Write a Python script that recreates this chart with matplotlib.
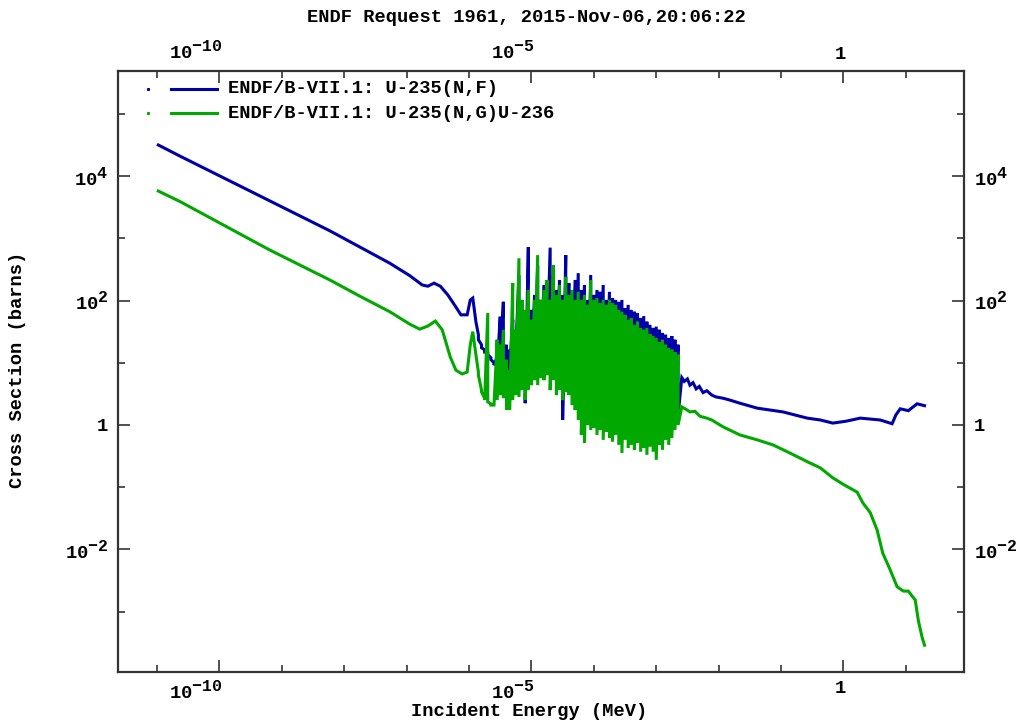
import matplotlib
matplotlib.use('Agg')
import matplotlib.pyplot as plt
import matplotlib.transforms as mtransforms
from matplotlib.ticker import FixedLocator, FuncFormatter, NullFormatter
import numpy as np

try:
    # exponents in the original labels are nearly full size
    import matplotlib._mathtext as _mt
    _mt.SHRINK_FACTOR = 0.88
except Exception:
    pass

plt.rcParams['font.family'] = ['Liberation Mono', 'DejaVu Sans Mono']
plt.rcParams['font.weight'] = 'bold'
plt.rcParams['mathtext.fontset'] = 'custom'
plt.rcParams['mathtext.rm'] = 'Liberation Mono:bold'
plt.rcParams['mathtext.it'] = 'Liberation Mono:bold'
plt.rcParams['mathtext.bf'] = 'Liberation Mono:bold'
plt.rcParams['mathtext.default'] = 'rm'

# all values are log10(E / MeV) and log10(sigma / barns)

# thermal / low-energy part
fis_low_logE = [-10.98, -10.63, -10.15, -9.67, -9.19, -8.71, -8.23, -7.75, -7.27, -6.95,
                -6.75, -6.66, -6.56, -6.46, -6.34, -6.22, -6.13, -6.03, -5.98, -5.94, -5.89]
fis_low_logS = [4.50, 4.32, 4.08, 3.84, 3.60, 3.36, 3.12, 2.86, 2.60, 2.40,
                2.25, 2.23, 2.28, 2.23, 2.09, 1.91, 1.77, 1.77, 2.01, 2.04, 1.66]
cap_low_logE = [-10.98, -10.63, -10.15, -9.67, -9.19, -8.71, -8.23, -7.75, -7.27, -6.95,
                -6.79, -6.66, -6.54, -6.43, -6.30, -6.21, -6.11, -6.03, -5.98, -5.94, -5.89]
cap_low_logS = [3.76, 3.59, 3.33, 3.07, 2.81, 2.57, 2.33, 2.07, 1.82, 1.62,
                1.54, 1.59, 1.67, 1.53, 1.09, 0.88, 0.82, 0.85, 1.29, 1.50, 1.13]

# resolved resonance region: upper / lower excursion per energy bin
res_logE = [-5.85, -5.80, -5.75, -5.70, -5.65, -5.60, -5.55, -5.50, -5.45, -5.40,
            -5.35, -5.30, -5.25, -5.20, -5.15, -5.10, -5.05, -5.00, -4.95, -4.90,
            -4.85, -4.80, -4.75, -4.70, -4.65, -4.60, -4.55, -4.50, -4.45, -4.40,
            -4.35, -4.30, -4.25, -4.20, -4.15, -4.10, -4.05, -4.00, -3.95, -3.90,
            -3.85, -3.80, -3.75, -3.70, -3.65, -3.60, -3.55, -3.50, -3.45, -3.40,
            -3.35, -3.30, -3.25, -3.20, -3.15, -3.10, -3.05, -3.00, -2.95, -2.90,
            -2.85, -2.80, -2.75, -2.70, -2.65]
fis_res_hi = [1.45, 1.29, 1.21, 1.16, 1.08, 1.00, 1.09, 1.74, 1.98, 1.29,
              1.21, 1.69, 1.45, 2.41, 1.85, 1.53, 2.86, 1.85, 2.09, 2.57,
              2.01, 2.25, 2.17, 2.85, 2.41, 2.17, 2.33, 2.09, 2.73, 2.28,
              2.17, 2.33, 2.44, 2.17, 2.25, 2.01, 2.41, 2.09, 2.17, 2.14,
              2.25, 2.01, 2.14, 2.04, 2.01, 1.98, 2.01, 1.88, 1.93, 1.85,
              1.82, 1.80, 1.72, 1.75, 1.66, 1.61, 1.56, 1.58, 1.53, 1.48,
              1.45, 1.40, 1.43, 1.37, 1.29]
fis_res_lo = [1.37, 1.24, 1.17, 1.13, 1.05, 0.96, 0.93, 1.01, 1.05, 0.96,
              0.88, 1.13, 1.21, 0.88, 0.72, 0.35, 0.72, 0.88, 0.96, 0.88,
              1.05, 1.01, 1.13, 0.88, 1.05, 0.80, 0.72, 0.08, 0.64, 0.72,
              0.56, 0.48, 0.40, 0.24, 0.32, 0.16, 0.08, 0.24, 0.03, 0.16,
              0.08, 0.11, 0.00, 0.08, 0.00, -0.05, -0.08, 0.00, -0.08, -0.11,
              -0.05, -0.16, -0.11, -0.18, -0.08, -0.21, -0.11, -0.24, -0.08, -0.16,
              -0.05, -0.08, 0.00, 0.08, 0.16]
cap_res_hi = [0.85, 0.56, 0.43, 1.80, 0.34, 0.32, 1.37, 1.29, 1.53, 1.05,
              0.88, 2.28, 1.53, 2.68, 2.01, 1.85, 2.17, 1.69, 2.01, 2.73,
              2.01, 2.17, 2.33, 2.01, 2.57, 2.09, 2.25, 2.01, 2.38, 2.09,
              2.17, 2.01, 2.14, 2.01, 2.09, 1.93, 2.33, 2.01, 2.04, 1.96,
              2.01, 1.93, 2.01, 1.96, 1.93, 1.85, 1.82, 1.77, 1.69, 1.72,
              1.61, 1.66, 1.56, 1.53, 1.56, 1.46, 1.43, 1.40, 1.33, 1.37,
              1.29, 1.24, 1.21, 1.17, 1.13]
cap_res_lo = [0.80, 0.53, 0.40, 0.37, 0.32, 0.32, 0.40, 0.48, 0.43, 0.24,
              0.24, 0.40, 0.48, 0.45, 0.56, 0.40, 0.56, 0.64, 0.72, 0.64,
              0.76, 0.72, 0.80, 0.56, 0.72, 0.48, 0.56, 0.40, 0.53, 0.48,
              0.32, 0.24, 0.08, -0.16, -0.29, 0.00, -0.08, -0.05, -0.16, -0.08,
              -0.24, -0.11, -0.21, -0.27, -0.16, -0.32, -0.45, -0.24, -0.37, -0.32,
              -0.40, -0.29, -0.43, -0.37, -0.48, -0.35, -0.43, -0.56, -0.32, -0.40,
              -0.24, -0.32, -0.21, -0.08, 0.00]

# unresolved + fast region
fis_high_logE = [-2.59, -2.55, -2.50, -2.46, -2.41, -2.36, -2.31, -2.25, -2.19, -2.11,
                 -2.04, -1.93, -1.82, -1.66, -1.38, -0.97, -0.58, -0.37, -0.17, 0.04,
                 0.27, 0.59, 0.78, 0.84, 0.91, 1.04, 1.18, 1.30]
fis_high_logS = [0.76, 0.70, 0.74, 0.64, 0.68, 0.58, 0.62, 0.52, 0.55, 0.48,
                 0.45, 0.43, 0.40, 0.35, 0.27, 0.21, 0.11, 0.08, 0.03, 0.06,
                 0.11, 0.08, 0.02, 0.16, 0.26, 0.23, 0.34, 0.31]
cap_high_logE = [-2.59, -2.52, -2.46, -2.38, -2.30, -2.19, -2.11, -1.93, -1.66, -1.38,
                 -1.13, -0.86, -0.58, -0.37, -0.17, -0.01, 0.22, 0.31, 0.43, 0.54,
                 0.63, 0.75, 0.86, 0.96, 1.04, 1.10, 1.15, 1.20, 1.26, 1.30]
cap_high_logS = [0.29, 0.25, 0.21, 0.22, 0.14, 0.11, 0.08, -0.03, -0.16, -0.24,
                 -0.32, -0.45, -0.59, -0.69, -0.85, -0.95, -1.08, -1.25, -1.41, -1.69,
                 -2.06, -2.33, -2.60, -2.67, -2.67, -2.75, -2.81, -3.14, -3.41, -3.54]

labels = ['ENDF/B-VII.1: U-235(N,F)', 'ENDF/B-VII.1: U-235(N,G)U-236']
colors = ['#0000a8', '#00a800']


def build(low_e, low_s, hi, lo, high_e, high_s):
    # resonance bins drawn as hi -> lo strokes, joined to the smooth parts
    res_e = np.repeat(res_logE, 2)
    res_s = np.column_stack([hi, lo]).ravel()
    e = np.concatenate([low_e, res_e, high_e])
    s = np.concatenate([low_s, res_s, high_s])
    return 10.0 ** e, 10.0 ** s


fis_E, fis_S = build(fis_low_logE, fis_low_logS, fis_res_hi, fis_res_lo, fis_high_logE, fis_high_logS)
cap_E, cap_S = build(cap_low_logE, cap_low_logS, cap_res_hi, cap_res_lo, cap_high_logE, cap_high_logS)

fig = plt.figure(figsize=(10.22, 7.21), dpi=100)
ax = fig.add_axes([0.1155, 0.068, 0.8278, 0.8336])

ax.plot(fis_E, fis_S, color=colors[0], lw=2.2, solid_joinstyle='miter')
ax.plot(cap_E, cap_S, color=colors[1], lw=2.2, solid_joinstyle='miter')

ax.set_xscale('log')
ax.set_yscale('log')
ax.set_xlim(10 ** -11.625, 10 ** 1.933)
ax.set_ylim(10 ** -3.97, 10 ** 5.69)


def fmt(v, pos):
    e = int(round(np.log10(v)))
    return '1' if e == 0 else r'$10^{%d}$' % e


ax.xaxis.set_major_locator(FixedLocator([1e-10, 1e-5, 1.0]))
ax.xaxis.set_minor_locator(FixedLocator([10.0 ** k for k in range(-11, 2) if k % 5 != 0]))
ax.yaxis.set_major_locator(FixedLocator([1e-2, 1.0, 1e2, 1e4]))
ax.yaxis.set_minor_locator(FixedLocator([1e-3, 1e-1, 1e1, 1e3, 1e5]))
ax.xaxis.set_major_formatter(FuncFormatter(fmt))
ax.yaxis.set_major_formatter(FuncFormatter(fmt))
ax.xaxis.set_minor_formatter(NullFormatter())
ax.yaxis.set_minor_formatter(NullFormatter())

ax.tick_params(which='both', direction='in', top=True, right=True,
               labeltop=True, labelright=True, width=1.2, color='#333333',
               labelsize=13.5)
ax.tick_params(which='major', length=8.5)
ax.tick_params(which='minor', length=5)
ax.tick_params(axis='x', which='major', pad=6)
ax.tick_params(axis='y', which='major', pad=7)
shift = mtransforms.ScaledTranslation(3 / 100, 0, fig.dpi_scale_trans)
for t in ax.xaxis.get_major_ticks():
    for lbl in (t.label1, t.label2):
        lbl.set_ha('right')
        lbl.set_transform(lbl.get_transform() + shift)

for sp in ax.spines.values():
    sp.set_linewidth(1.6)
    sp.set_color('#333333')

# legend drawn by hand: tiny dot, line sample, text
for i, (lab, col) in enumerate(zip(labels, colors)):
    yy = 0.970 - 0.040 * i
    ax.plot([0.0355], [yy], marker='s', ms=1.2, color=col, transform=ax.transAxes)
    ax.plot([0.0626, 0.117], [yy, yy], color=col, lw=2.2, transform=ax.transAxes)
    ax.text(0.130, yy, lab, transform=ax.transAxes, va='center', ha='left',
            fontsize=13.5, fontweight='bold')

fig.text(526 / 1022, 1 - 17.5 / 721, 'ENDF Request 1961, 2015-Nov-06,20:06:22',
         ha='center', va='center', fontsize=13.5, fontweight='bold')
fig.text(529 / 1022, 1 - 712 / 721, 'Incident Energy (MeV)',
         ha='center', va='center', fontsize=13.5, fontweight='bold')
fig.text(18 / 1022, 1 - 370 / 721, 'Cross Section (barns)', rotation=90,
         ha='center', va='center', fontsize=13.5, fontweight='bold')

fig.savefig('out.png', dpi=100)
